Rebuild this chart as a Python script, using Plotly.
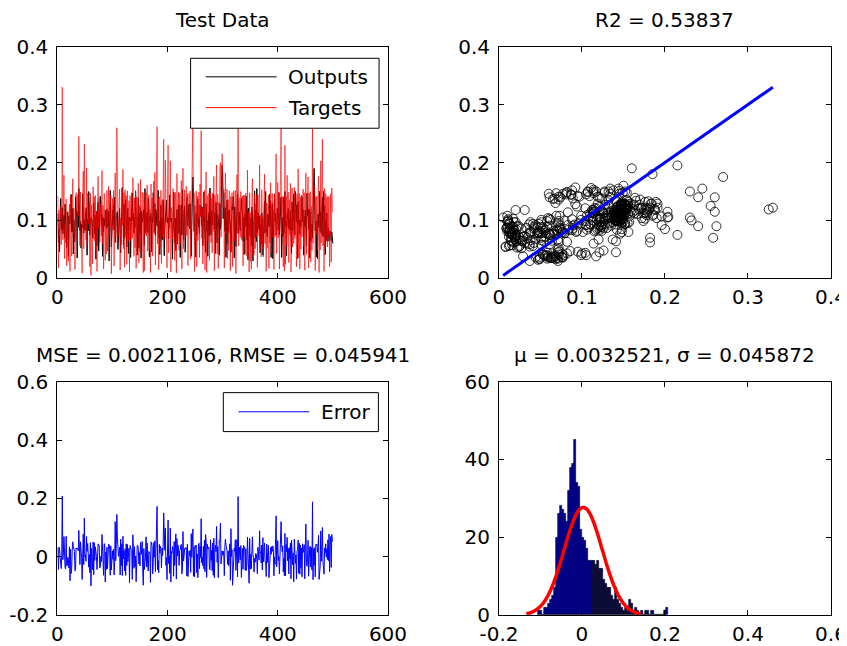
import numpy as np
import plotly.graph_objects as go

# network outputs and targets on the test set (500 samples)
outputs = [
    0.112, 0.062, 0.085, 0.046, 0.095, 0.138, 0.099, 0.083, 0.122, 0.077,
    0.092, 0.109, 0.070, 0.128, 0.103, 0.067, 0.053, 0.114, 0.115, 0.038,
    0.108, 0.094, 0.095, 0.116, 0.145, 0.080, 0.080, 0.121, 0.042, 0.101,
    0.063, 0.064, 0.141, 0.118, 0.105, 0.035, 0.116, 0.088, 0.155, 0.129,
    0.083, 0.098, 0.052, 0.093, 0.087, 0.146, 0.108, 0.078, 0.100, 0.084,
    0.116, 0.082, 0.122, 0.040, 0.102, 0.082, 0.150, 0.125, 0.075, 0.099,
    0.105, 0.099, 0.100, 0.070, 0.108, 0.130, 0.093, 0.077, 0.109, 0.033,
    0.116, 0.056, 0.117, 0.132, 0.047, 0.100, 0.101, 0.142, 0.127, 0.091,
    0.110, 0.038, 0.105, 0.080, 0.103, 0.091, 0.118, 0.102, 0.086, 0.120,
    0.088, 0.095, 0.116, 0.030, 0.104, 0.152, 0.107, 0.054, 0.080, 0.118,
    0.092, 0.127, 0.084, 0.140, 0.062, 0.075, 0.108, 0.115, 0.115, 0.050,
    0.078, 0.114, 0.121, 0.077, 0.044, 0.089, 0.112, 0.157, 0.118, 0.058,
    0.128, 0.068, 0.126, 0.136, 0.099, 0.054, 0.109, 0.121, 0.043, 0.105,
    0.100, 0.105, 0.036, 0.097, 0.126, 0.147, 0.099, 0.113, 0.078, 0.105,
    0.088, 0.150, 0.103, 0.106, 0.040, 0.097, 0.139, 0.052, 0.112, 0.078,
    0.122, 0.035, 0.116, 0.097, 0.101, 0.108, 0.119, 0.057, 0.155, 0.080,
    0.080, 0.108, 0.114, 0.079, 0.138, 0.126, 0.037, 0.107, 0.098, 0.112,
    0.046, 0.104, 0.097, 0.148, 0.120, 0.079, 0.129, 0.074, 0.119, 0.099,
    0.090, 0.104, 0.152, 0.070, 0.099, 0.041, 0.109, 0.127, 0.065, 0.104,
    0.067, 0.136, 0.090, 0.039, 0.084, 0.106, 0.124, 0.135, 0.097, 0.096,
    0.105, 0.068, 0.112, 0.144, 0.105, 0.098, 0.104, 0.092, 0.033, 0.122,
    0.149, 0.095, 0.061, 0.104, 0.048, 0.086, 0.119, 0.059, 0.106, 0.127,
    0.078, 0.126, 0.036, 0.084, 0.127, 0.075, 0.153, 0.104, 0.066, 0.112,
    0.125, 0.045, 0.087, 0.129, 0.140, 0.103, 0.090, 0.118, 0.128, 0.086,
    0.129, 0.087, 0.038, 0.091, 0.122, 0.175, 0.148, 0.115, 0.081, 0.087,
    0.037, 0.112, 0.075, 0.133, 0.137, 0.089, 0.103, 0.077, 0.127, 0.109,
    0.125, 0.090, 0.123, 0.056, 0.110, 0.149, 0.095, 0.066, 0.045, 0.129,
    0.081, 0.100, 0.038, 0.092, 0.114, 0.073, 0.156, 0.093, 0.075, 0.117,
    0.092, 0.100, 0.145, 0.113, 0.085, 0.113, 0.043, 0.131, 0.092, 0.061,
    0.111, 0.089, 0.105, 0.040, 0.129, 0.085, 0.096, 0.160, 0.195, 0.180,
    0.103, 0.148, 0.083, 0.081, 0.122, 0.036, 0.091, 0.135, 0.060, 0.116,
    0.079, 0.119, 0.101, 0.094, 0.045, 0.078, 0.124, 0.118, 0.141, 0.129,
    0.035, 0.123, 0.094, 0.055, 0.111, 0.120, 0.146, 0.119, 0.078, 0.115,
    0.083, 0.082, 0.112, 0.138, 0.118, 0.114, 0.064, 0.105, 0.041, 0.111,
    0.089, 0.120, 0.142, 0.066, 0.120, 0.032, 0.121, 0.102, 0.085, 0.072,
    0.105, 0.057, 0.123, 0.104, 0.030, 0.101, 0.094, 0.151, 0.070, 0.118,
    0.063, 0.155, 0.078, 0.112, 0.113, 0.085, 0.107, 0.044, 0.093, 0.059,
    0.113, 0.097, 0.040, 0.055, 0.105, 0.133, 0.078, 0.150, 0.080, 0.087,
    0.072, 0.111, 0.105, 0.089, 0.145, 0.091, 0.134, 0.036, 0.088, 0.129,
    0.034, 0.093, 0.081, 0.146, 0.099, 0.112, 0.075, 0.078, 0.121, 0.111,
    0.083, 0.148, 0.075, 0.108, 0.117, 0.140, 0.036, 0.093, 0.105, 0.072,
    0.140, 0.078, 0.150, 0.090, 0.100, 0.039, 0.112, 0.102, 0.121, 0.086,
    0.105, 0.083, 0.117, 0.087, 0.043, 0.132, 0.082, 0.100, 0.146, 0.097,
    0.075, 0.150, 0.105, 0.097, 0.127, 0.034, 0.132, 0.093, 0.101, 0.076,
    0.101, 0.089, 0.114, 0.141, 0.098, 0.119, 0.040, 0.107, 0.090, 0.118,
    0.070, 0.056, 0.147, 0.108, 0.119, 0.085, 0.120, 0.035, 0.115, 0.064,
    0.093, 0.094, 0.070, 0.140, 0.128, 0.190, 0.125, 0.082, 0.099, 0.037,
    0.099, 0.034, 0.111, 0.103, 0.088, 0.150, 0.081, 0.115, 0.077, 0.115,
    0.140, 0.072, 0.150, 0.072, 0.125, 0.041, 0.102, 0.065, 0.113, 0.064,
    0.084, 0.087, 0.064, 0.071, 0.082, 0.077, 0.065, 0.080, 0.067, 0.060,
]

targets = [
    0.142, 0.018, 0.118, 0.073, 0.096, 0.124, 0.058, 0.088, 0.330, 0.067,
    0.105, 0.178, 0.034, 0.092, 0.061, 0.137, 0.022, 0.083, 0.113, 0.029,
    0.069, 0.128, 0.012, 0.142, 0.087, 0.038, 0.101, 0.172, 0.076, 0.121,
    0.082, 0.015, 0.097, 0.148, 0.131, 0.063, 0.145, 0.108, 0.245, 0.119,
    0.056, 0.149, 0.072, 0.091, 0.009, 0.134, 0.185, 0.051, 0.232, 0.084,
    0.122, 0.066, 0.191, 0.058, 0.147, 0.094, 0.114, 0.132, 0.020, 0.147,
    0.005, 0.127, 0.079, 0.025, 0.158, 0.068, 0.141, 0.064, 0.143, 0.049,
    0.116, 0.012, 0.124, 0.176, 0.086, 0.139, 0.062, 0.109, 0.128, 0.074,
    0.186, 0.059, 0.126, 0.016, 0.147, 0.135, 0.031, 0.118, 0.042, 0.152,
    0.047, 0.133, 0.159, 0.071, 0.128, 0.088, 0.144, 0.008, 0.093, 0.138,
    0.083, 0.152, 0.021, 0.121, 0.182, 0.061, 0.149, 0.260, 0.179, 0.071,
    0.079, 0.131, 0.154, 0.014, 0.104, 0.058, 0.156, 0.092, 0.188, 0.051,
    0.148, 0.019, 0.153, 0.072, 0.143, 0.024, 0.151, 0.104, 0.064, 0.134,
    0.011, 0.143, 0.066, 0.122, 0.148, 0.069, 0.174, 0.141, 0.038, 0.139,
    0.053, 0.152, 0.017, 0.141, 0.078, 0.136, 0.164, 0.027, 0.126, 0.046,
    0.171, 0.062, 0.124, 0.149, 0.051, 0.010, 0.147, 0.013, 0.134, 0.076,
    0.148, 0.073, 0.161, 0.047, 0.089, 0.144, 0.049, 0.119, 0.010, 0.163,
    0.095, 0.139, 0.038, 0.127, 0.168, 0.077, 0.183, 0.023, 0.143, 0.104,
    0.262, 0.059, 0.138, 0.015, 0.141, 0.053, 0.145, 0.152, 0.026, 0.134,
    0.071, 0.170, 0.240, 0.068, 0.106, 0.204, 0.094, 0.132, 0.018, 0.155,
    0.230, 0.044, 0.114, 0.087, 0.203, 0.011, 0.122, 0.104, 0.068, 0.155,
    0.082, 0.147, 0.031, 0.149, 0.126, 0.009, 0.181, 0.061, 0.146, 0.149,
    0.048, 0.147, 0.059, 0.122, 0.169, 0.016, 0.114, 0.190, 0.051, 0.113,
    0.153, 0.071, 0.119, 0.159, 0.074, 0.146, 0.022, 0.112, 0.147, 0.089,
    0.151, 0.033, 0.117, 0.089, 0.177, 0.270, 0.081, 0.148, 0.012, 0.126,
    0.068, 0.151, 0.020, 0.142, 0.065, 0.123, 0.149, 0.036, 0.163, 0.106,
    0.255, 0.069, 0.121, 0.025, 0.145, 0.107, 0.152, 0.014, 0.121, 0.184,
    0.010, 0.143, 0.064, 0.124, 0.147, 0.031, 0.111, 0.151, 0.062, 0.139,
    0.044, 0.147, 0.081, 0.176, 0.013, 0.143, 0.082, 0.148, 0.196, 0.042,
    0.145, 0.017, 0.131, 0.099, 0.191, 0.200, 0.071, 0.150, 0.215, 0.185,
    0.122, 0.154, 0.018, 0.115, 0.182, 0.076, 0.121, 0.154, 0.034, 0.136,
    0.048, 0.151, 0.145, 0.013, 0.141, 0.079, 0.148, 0.020, 0.119, 0.151,
    0.064, 0.142, 0.152, 0.008, 0.140, 0.179, 0.077, 0.325, 0.056, 0.139,
    0.116, 0.071, 0.150, 0.067, 0.114, 0.142, 0.021, 0.144, 0.072, 0.143,
    0.042, 0.147, 0.095, 0.038, 0.187, 0.047, 0.115, 0.011, 0.148, 0.029,
    0.113, 0.016, 0.142, 0.172, 0.037, 0.099, 0.041, 0.145, 0.051, 0.129,
    0.072, 0.144, 0.019, 0.144, 0.110, 0.073, 0.196, 0.058, 0.110, 0.037,
    0.153, 0.051, 0.105, 0.037, 0.144, 0.180, 0.060, 0.132, 0.012, 0.130,
    0.052, 0.144, 0.144, 0.017, 0.105, 0.061, 0.165, 0.044, 0.123, 0.147,
    0.071, 0.118, 0.015, 0.145, 0.072, 0.174, 0.215, 0.043, 0.117, 0.166,
    0.070, 0.149, 0.016, 0.129, 0.146, 0.260, 0.077, 0.110, 0.142, 0.020,
    0.134, 0.013, 0.230, 0.024, 0.142, 0.056, 0.178, 0.088, 0.149, 0.027,
    0.136, 0.075, 0.164, 0.011, 0.100, 0.156, 0.054, 0.113, 0.060, 0.157,
    0.069, 0.127, 0.111, 0.020, 0.146, 0.058, 0.189, 0.036, 0.147, 0.016,
    0.141, 0.050, 0.144, 0.072, 0.142, 0.154, 0.055, 0.148, 0.014, 0.152,
    0.182, 0.041, 0.114, 0.099, 0.175, 0.018, 0.147, 0.070, 0.150, 0.028,
    0.124, 0.048, 0.258, 0.061, 0.155, 0.160, 0.156, 0.013, 0.141, 0.076,
    0.142, 0.049, 0.138, 0.176, 0.010, 0.107, 0.049, 0.203, 0.061, 0.139,
    0.240, 0.056, 0.117, 0.012, 0.155, 0.053, 0.146, 0.064, 0.140, 0.054,
    0.142, 0.073, 0.141, 0.020, 0.124, 0.146, 0.028, 0.156, 0.120, 0.114,
]

# error histogram (bin counts)
err_bin_start = -0.107
err_bin_width = 0.0049
err_counts = [
    1, 1, 0, 2, 2, 3, 4, 5, 7, 20, 26, 28, 27, 26, 24, 32, 38, 39, 45, 34,
    33, 22, 20, 19, 17, 14, 14, 14, 13, 14, 12, 12, 9, 8, 7, 7, 5, 4, 7, 4,
    3, 2, 1, 2, 1, 4, 3, 1, 2, 1, 0, 1, 0, 1, 1, 0, 1, 0, 0, 0, 0, 0, 1, 2,
]

# fitted normal curve (mu = 0.0032521, sigma = 0.045872) as drawn
fit_x = [-0.134, -0.12, -0.11, -0.10, -0.09, -0.08, -0.07, -0.06, -0.05, -0.04,
         -0.03, -0.02, -0.01, 0.0, 0.01, 0.02, 0.03, 0.04, 0.05, 0.06, 0.07,
         0.08, 0.09, 0.10, 0.11, 0.12, 0.13, 0.141]
fit_y = [0.32, 0.76, 1.34, 2.23, 3.56, 5.40, 7.82, 10.8, 14.2, 17.9,
         21.4, 24.4, 26.6, 27.6, 27.4, 25.9, 23.3, 20.0, 16.4, 12.8, 9.55,
         6.78, 4.60, 2.97, 1.83, 1.08, 0.60, 0.30]

titles = ["Test Data", "R2 = 0.53837",
          "MSE = 0.0021106, RMSE = 0.045941", "\u03bc = 0.0032521, \u03c3 = 0.045872"]

err_y_ticks = [-0.2, 0, 0.2, 0.4, 0.6]
err_y_labels = ["-0.2", "0", "0.2", "0.4", "0.6"]
hist_x_ticks = [-0.2, 0, 0.2, 0.4, 0.6]
hist_x_labels = ["-0.2", "0", "0.2", "0.4", "0.6"]

FONT = "DejaVu Sans, Liberation Sans, Arial, sans-serif"
FS = 20

outputs = np.array(outputs)
targets = np.array(targets)
errors = targets - outputs
sample_idx = np.arange(1, len(outputs) + 1)
bin_centers = err_bin_start + err_bin_width * (np.arange(len(err_counts)) + 0.5)

fig = go.Figure()

# top left: outputs vs targets over samples
fig.add_trace(go.Scatter(x=sample_idx, y=outputs, mode="lines", name="Outputs",
                         line=dict(color="black", width=1), xaxis="x", yaxis="y"))
fig.add_trace(go.Scatter(x=sample_idx, y=targets, mode="lines", name="Targets",
                         line=dict(color="rgba(255,0,0,0.8)", width=0.8), xaxis="x", yaxis="y"))

# top right: regression scatter
fig.add_trace(go.Scatter(x=targets, y=outputs, mode="markers", name="Data",
                         marker=dict(symbol="circle-open", size=9, color="black",
                                     line=dict(width=0.8)),
                         xaxis="x2", yaxis="y2"))
t_lo, t_hi = targets.min(), targets.max()
fig.add_trace(go.Scatter(x=[t_lo, t_hi], y=[t_lo, t_hi], mode="lines", name="Fit",
                         line=dict(color="#0000ff", width=3), xaxis="x2", yaxis="y2"))

# bottom left: error over samples
fig.add_trace(go.Scatter(x=sample_idx, y=errors, mode="lines", name="Error",
                         line=dict(color="#0000ff", width=1), xaxis="x3", yaxis="y3"))

# bottom right: error histogram + normal fit
fig.add_trace(go.Bar(x=bin_centers, y=err_counts, width=err_bin_width, name="hist",
                     marker=dict(color="#00008f", line=dict(color="black", width=0.6)),
                     xaxis="x4", yaxis="y4"))
fig.add_trace(go.Scatter(x=fit_x, y=fit_y, mode="lines", name="normal fit",
                         line=dict(color="#ff0000", width=3.5, shape="spline"),
                         xaxis="x4", yaxis="y4"))

ax = dict(showline=True, linecolor="black", linewidth=1, mirror="allticks",
          ticks="inside", ticklen=5, tickcolor="black", showgrid=False,
          zeroline=False, automargin=False,
          tickfont=dict(family=FONT, size=FS, color="black"))
# the page adds an 8px body margin, so the figure is sized to fit inside it
col1 = [0.0588, 0.4529]
col2 = [0.5852, 0.9809]
row1 = [0.5763, 0.9393]
row2 = [0.0486, 0.4143]

fig.update_layout(
    template="none",
    width=839, height=638,
    margin=dict(l=0, r=0, t=0, b=0),
    paper_bgcolor="white", plot_bgcolor="white",
    showlegend=False,
    bargap=0,
    font=dict(family=FONT, size=FS, color="black"),
    xaxis=dict(ax, domain=col1, anchor="y", range=[0, 600], dtick=200, ticklabelstandoff=1),
    yaxis=dict(ax, domain=row1, anchor="x", range=[0, 0.4], dtick=0.1, ticklabelstandoff=4),
    xaxis2=dict(ax, domain=col2, anchor="y2", range=[0, 0.4], dtick=0.1, ticklabelstandoff=1),
    yaxis2=dict(ax, domain=row1, anchor="x2", range=[0, 0.4], dtick=0.1, ticklabelstandoff=4),
    xaxis3=dict(ax, domain=col1, anchor="y3", range=[0, 600], dtick=200, ticklabelstandoff=1),
    yaxis3=dict(ax, domain=row2, anchor="x3", range=[-0.2, 0.6], tickvals=err_y_ticks,
                ticktext=err_y_labels, ticklabelstandoff=4),
    xaxis4=dict(ax, domain=col2, anchor="y4", range=[-0.2, 0.6], tickvals=hist_x_ticks,
                ticktext=hist_x_labels, ticklabelstandoff=1),
    yaxis4=dict(ax, domain=row2, anchor="x4", range=[0, 60], dtick=20, ticklabelstandoff=4),
)

# subplot titles
for i, t in enumerate(titles):
    sfx = "" if i == 0 else str(i + 1)
    fig.add_annotation(text=t, xref="x%s domain" % sfx, yref="y%s domain" % sfx,
                       x=0.5, y=1, xanchor="center", yanchor="bottom", yshift=13,
                       showarrow=False, font=dict(family=FONT, size=FS, color="black"))


# MATLAB-style boxed legends
def add_legend(sfx, box, items):
    x0, x1, y0, y1 = box
    fig.add_shape(type="rect", xref="x%s domain" % sfx, yref="y%s domain" % sfx,
                  x0=x0, x1=x1, y0=y0, y1=y1, line=dict(color="black", width=1),
                  fillcolor="white", layer="above")
    for label, color, ypos in items:
        fig.add_shape(type="line", xref="x%s domain" % sfx, yref="y%s domain" % sfx,
                      x0=x0 + 0.046, x1=x0 + 0.26, y0=ypos, y1=ypos,
                      line=dict(color=color, width=1), layer="above")
        fig.add_annotation(text=label, xref="x%s domain" % sfx, yref="y%s domain" % sfx,
                           x=x0 + 0.29, y=ypos, xanchor="left", yanchor="middle",
                           showarrow=False, font=dict(family=FONT, size=FS, color="black"))


add_legend("", (0.403, 0.973, 0.648, 0.950),
           [("Outputs", "black", 0.870), ("Targets", "#ff0000", 0.737)])
add_legend("3", (0.502, 0.971, 0.786, 0.953), [("Error", "#0000ff", 0.871)])

fig.write_html("out.html")
